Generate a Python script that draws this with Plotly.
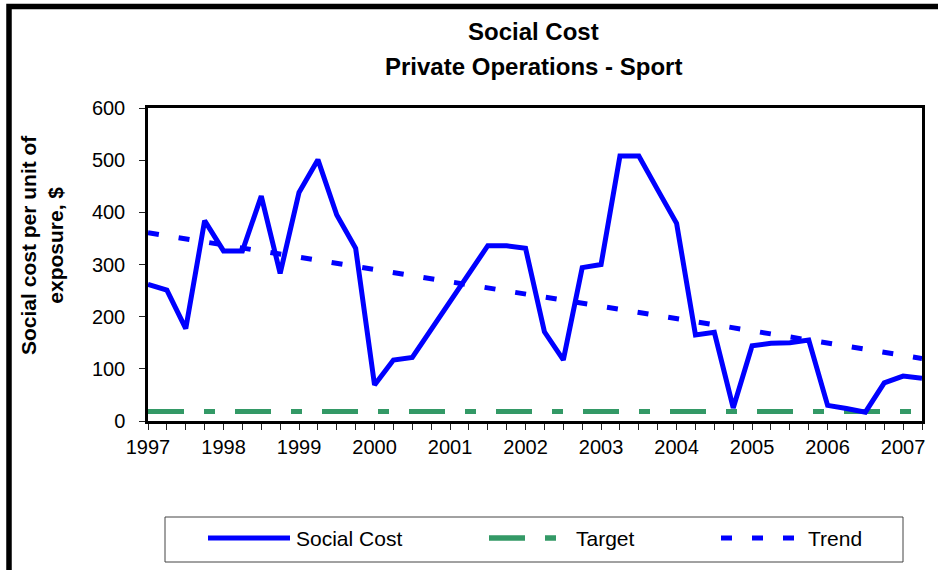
import numpy as np
import plotly.graph_objects as go

# Quarterly series, 1997 Q1 .. 2007 Q2
years = list(range(1997, 2008))
quarters = [f"{y} Q{q}" for y in years for q in range(1, 5)][:42]
social_cost = [262, 251, 177, 384, 326, 326, 431, 283, 438, 501, 395, 331,
               69, 117, 122, 176, 231, 286, 336, 336, 331, 171, 117, 294,
               300, 508, 508, 443, 379, 165, 170, 25, 144, 149, 150, 155,
               30, 24, 17, 73, 86, 82]
target_value = 18
tick_labels = [q.split()[0] if q.endswith("Q1") else "" for q in quarters]
y_ticks = [0, 100, 200, 300, 400, 500, 600]

target = [target_value] * len(quarters)

# Linear trendline fitted to the social cost series
idx = np.arange(len(social_cost))
slope, intercept = np.polyfit(idx, social_cost, 1)
trend = intercept + slope * idx

BLUE = "#0000FF"
GREEN = "#339966"
FONT = "Arial, Liberation Sans, sans-serif"

# Plot-area geometry in pixels, used to place decorations in paper units
PL, PT, PW, PH = 148, 108, 774, 313
W, H = 938, 570


def px(x):
    return (x - PL) / PW


def py(y):
    return (PT + PH - y) / PH


fig = go.Figure()
fig.add_trace(go.Scatter(x=quarters, y=target, mode="lines", name="Target",
                         line=dict(color=GREEN, width=5, dash="36px,20px,11px,20px")))
fig.add_trace(go.Scatter(x=quarters, y=social_cost, mode="lines", name="Social Cost",
                         line=dict(color=BLUE, width=5)))
fig.add_trace(go.Scatter(x=quarters, y=trend, mode="lines", name="Trend",
                         line=dict(color=BLUE, width=5, dash="11px,20px")))

axis_style = dict(showgrid=False, zeroline=False, showline=True, linecolor="black",
                  linewidth=2.5, mirror=True, ticks="outside", ticklen=6, tickwidth=1,
                  tickcolor="#222", tickfont=dict(family=FONT, size=20, color="black"))

fig.update_xaxes(type="category", range=[0, len(quarters) - 1],
                 tickmode="array", tickvals=quarters, ticktext=tick_labels,
                 tickangle=0, **axis_style)
fig.update_yaxes(range=[0, 600], tickmode="array", tickvals=y_ticks,
                 ticklabelstandoff=10, **axis_style)

shapes = []
annotations = []

# Outer chart frame (left and top edges)
shapes.append(dict(type="path", xref="paper", yref="paper",
                   path=f"M {px(9)},{py(580)} L {px(9)},{py(6.5)} L {px(960)},{py(6.5)}",
                   line=dict(color="black", width=5.5)))

# Titles
annotations.append(dict(text="<b>Social Cost</b>", x=px(533), y=py(32), xref="paper",
                        yref="paper", showarrow=False, xanchor="center", yanchor="middle",
                        font=dict(family=FONT, size=24, color="black")))
annotations.append(dict(text="<b>Private Operations - Sport</b>", x=px(533), y=py(66),
                        xref="paper", yref="paper", showarrow=False, xanchor="center",
                        yanchor="middle", font=dict(family=FONT, size=24, color="black")))
annotations.append(dict(text="<b>Social cost per unit of<br>exposure, $</b>", x=px(42),
                        y=py(245), xref="paper", yref="paper", showarrow=False,
                        textangle=-90, xanchor="center", yanchor="middle",
                        font=dict(family=FONT, size=21, color="black")))

# Legend box with line samples
shapes.append(dict(type="rect", xref="paper", yref="paper",
                   x0=px(165), x1=px(903), y0=py(517), y1=py(562),
                   line=dict(color="#444", width=1), fillcolor="white", layer="above"))
legend_y = py(538)
shapes.append(dict(type="line", xref="paper", yref="paper", x0=px(208), x1=px(290),
                   y0=legend_y, y1=legend_y, line=dict(color=BLUE, width=5)))
shapes.append(dict(type="line", xref="paper", yref="paper", x0=px(489), x1=px(556),
                   y0=legend_y, y1=legend_y,
                   line=dict(color=GREEN, width=5.5, dash="36px,20px,11px,20px")))
shapes.append(dict(type="line", xref="paper", yref="paper", x0=px(721), x1=px(794),
                   y0=legend_y, y1=legend_y,
                   line=dict(color=BLUE, width=5, dash="11px,20px")))
for label, x in [("Social Cost", 294), ("Target", 574), ("Trend", 806)]:
    annotations.append(dict(text=label, x=px(x), y=legend_y, xref="paper", yref="paper",
                            showarrow=False, xanchor="left", yanchor="middle",
                            font=dict(family=FONT, size=21, color="black")))

fig.update_layout(width=W, height=H, autosize=False,
                  margin=dict(l=PL, r=W - PL - PW, t=PT, b=H - PT - PH, pad=0),
                  paper_bgcolor="white", plot_bgcolor="white", showlegend=False,
                  shapes=shapes, annotations=annotations)

fig.write_html("out.html")
